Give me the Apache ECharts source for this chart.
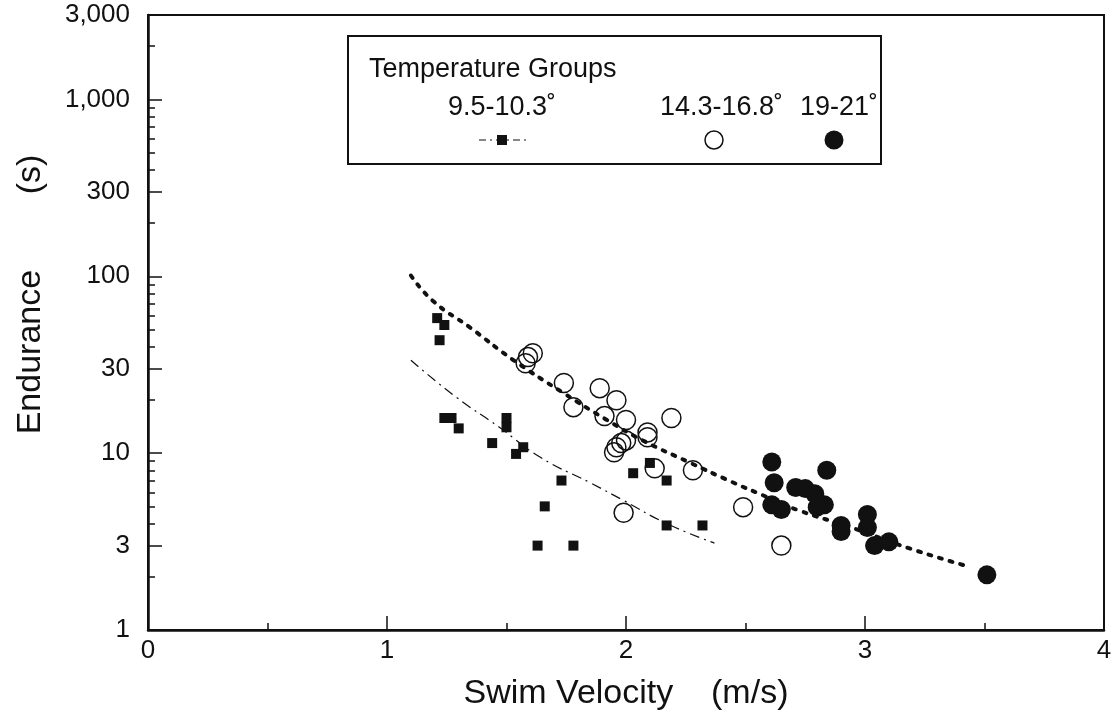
<!DOCTYPE html>
<html>
<head>
<meta charset="utf-8">
<title>Endurance vs swim velocity</title>
<script src="https://cdn.jsdelivr.net/npm/echarts@6/dist/echarts.min.js"></script>
<style>
  html, body { margin: 0; padding: 0; background: #fff; }
  #chart { width: 1116px; height: 719px; }
</style>
</head>
<body>
<div id="chart"></div>
<script>
// 9.5-10.3 deg group (squares)
const coldVelocity = [1.21, 1.24, 1.22, 1.24, 1.27, 1.30, 1.50, 1.50, 1.44, 1.57, 1.54, 1.73, 1.66, 1.63, 1.78, 2.03, 2.10, 2.17, 2.17, 2.32]
const coldEndurance = [58, 53, 43.5, 15.8, 15.8, 13.8, 15.8, 14.0, 11.4, 10.8, 9.9, 7.0, 5.0, 3.0, 3.0, 7.7, 8.8, 7.0, 3.9, 3.9]

// 14.3-16.8 deg group (open circles)
const midVelocity = [1.61, 1.59, 1.58, 1.74, 1.78, 1.89, 1.96, 1.91, 2.00, 2.19, 2.09, 2.09, 2.00, 1.98, 1.96, 1.95, 2.12, 2.28, 1.99, 2.49, 2.65]
const midEndurance = [36.7, 34.9, 32.2, 24.9, 18.2, 23.3, 19.9, 16.2, 15.4, 15.8, 13.1, 12.3, 11.8, 11.4, 10.8, 10.1, 8.2, 8.0, 4.6, 4.95, 3.0]

// 19-21 deg group (filled circles)
const warmVelocity = [2.61, 2.62, 2.84, 2.71, 2.75, 2.79, 2.83, 2.80, 2.61, 2.65, 2.90, 2.90, 3.01, 3.01, 3.04, 3.10, 3.51]
const warmEndurance = [8.9, 6.8, 8.0, 6.4, 6.3, 5.9, 5.1, 4.95, 5.1, 4.8, 3.9, 3.6, 4.5, 3.8, 3.0, 3.15, 2.05]

// fitted curves
const warmFitVelocity = [1.10, 1.19, 1.35, 1.53, 1.74, 1.92, 2.07, 2.27, 2.44, 2.57, 2.72, 2.95, 3.18, 3.44]
const warmFitEndurance = [101, 73, 51, 33.5, 21.8, 15.4, 11.8, 8.8, 6.9, 5.8, 4.76, 3.77, 2.91, 2.27]
const coldFitVelocity = [1.10, 1.29, 1.47, 1.64, 1.85, 1.99, 2.17, 2.37]
const coldFitEndurance = [33.5, 20.7, 14.0, 9.5, 6.8, 5.4, 4.0, 3.1]

const yTickValues = [1, 3, 10, 30, 100, 300, 1000, 3000]
const yMinorValues = [2, 4, 5, 6, 7, 8, 9, 20, 40, 50, 60, 70, 80, 90, 200, 400, 500, 600, 700, 800, 900, 2000]
const groupNames = ['9.5-10.3˚', '14.3-16.8˚', '19-21˚']

const zip = (xs, ys) => xs.map((x, i) => [x, ys[i]])

const ink = '#111'
const font = '"Liberation Sans", Arial, Helvetica, sans-serif'

const chart = echarts.init(document.getElementById('chart'))

const option = {
  backgroundColor: '#fff',
  animation: false,
  textStyle: { fontFamily: font, color: ink },
  grid: {
    left: 148, right: 12, top: 15, bottom: 89,
    show: true, borderColor: ink, borderWidth: 2, backgroundColor: 'transparent'
  },
  xAxis: {
    type: 'value',
    min: 0, max: 4, interval: 1,
    name: 'Swim Velocity    (m/s)',
    nameLocation: 'middle',
    nameGap: 47,
    nameTextStyle: { fontSize: 34, color: ink, fontFamily: font },
    axisLine: { lineStyle: { color: ink, width: 2.5 } },
    axisTick: { inside: true, length: 14, lineStyle: { color: ink, width: 1.5 } },
    minorTick: { show: true, splitNumber: 2, length: 7, lineStyle: { color: ink, width: 1.5 } },
    splitLine: { show: false },
    axisLabel: { fontSize: 26, color: ink, margin: 8, fontFamily: font }
  },
  yAxis: [
    {
      type: 'log', logBase: 10,
      position: 'left',
      min: 1, max: 3000,
      name: 'Endurance        (s)',
      nameLocation: 'middle',
      nameRotate: 90,
      nameGap: 100,
      nameTextStyle: { fontSize: 34, color: ink, fontFamily: font, padding: [0, 0, 0, 56] },
      axisLine: { show: true, lineStyle: { color: ink, width: 2.5 } },
      axisTick: { inside: true, length: 14, customValues: yTickValues, lineStyle: { color: ink, width: 1.5 } },
      splitLine: { show: false },
      axisLabel: {
        fontSize: 26, color: ink, margin: 18, fontFamily: font,
        customValues: yTickValues,
        formatter: v => Math.round(v).toLocaleString('en-US')
      }
    },
    {
      type: 'log', logBase: 10,
      position: 'left',
      offset: 0,
      min: 1, max: 3000,
      axisLine: { show: false },
      axisTick: { show: true, inside: true, length: 7, customValues: yMinorValues, lineStyle: { color: ink, width: 1.5 } },
      axisLabel: { show: false },
      splitLine: { show: false }
    }
  ],
  series: [
    {
      name: 'warm fit',
      type: 'line',
      smooth: true,
      showSymbol: false,
      silent: true,
      data: zip(warmFitVelocity, warmFitEndurance),
      lineStyle: { color: ink, width: 4, type: [3, 8], cap: 'round', opacity: 1 },
      z: 1
    },
    {
      name: 'cold fit',
      type: 'line',
      smooth: true,
      showSymbol: false,
      silent: true,
      data: zip(coldFitVelocity, coldFitEndurance),
      lineStyle: { color: ink, width: 1.2, type: [10, 5, 2, 5], opacity: 1 },
      z: 1
    },
    {
      name: groupNames[0],
      type: 'scatter',
      symbol: 'rect',
      symbolSize: 10,
      data: zip(coldVelocity, coldEndurance),
      itemStyle: { color: ink, opacity: 1 },
      z: 3
    },
    {
      name: groupNames[1],
      type: 'scatter',
      symbol: 'circle',
      symbolSize: 19,
      data: zip(midVelocity, midEndurance),
      itemStyle: { color: 'rgba(0,0,0,0)', borderColor: ink, borderWidth: 1.5, opacity: 1 },
      z: 3
    },
    {
      name: groupNames[2],
      type: 'scatter',
      symbol: 'circle',
      symbolSize: 19,
      data: zip(warmVelocity, warmEndurance),
      itemStyle: { color: ink, opacity: 1 },
      z: 3
    }
  ],
  // legend box drawn as in the original figure
  graphic: [
    {
      type: 'rect', left: 347, top: 35,
      shape: { width: 533, height: 128 },
      style: { fill: '#fff', stroke: ink, lineWidth: 2 },
      z: 10
    },
    {
      type: 'text', left: 369, top: 56, z: 11,
      style: { text: 'Temperature Groups', fontSize: 27, fontFamily: font, fill: ink }
    },
    {
      type: 'text', left: 448, top: 94, z: 11,
      style: { text: groupNames[0], fontSize: 27, fontFamily: font, fill: ink }
    },
    {
      type: 'text', left: 660, top: 94, z: 11,
      style: { text: groupNames[1], fontSize: 27, fontFamily: font, fill: ink }
    },
    {
      type: 'text', left: 800, top: 94, z: 11,
      style: { text: groupNames[2], fontSize: 27, fontFamily: font, fill: ink }
    },
    {
      type: 'line', z: 11,
      shape: { x1: 479, y1: 140, x2: 526, y2: 140 },
      style: { stroke: ink, lineWidth: 1.2, lineDash: [7, 4, 2, 4] }
    },
    {
      type: 'rect', z: 12,
      shape: { x: 497, y: 135, width: 10, height: 10 },
      style: { fill: ink }
    },
    {
      type: 'circle', z: 11,
      shape: { cx: 714, cy: 140, r: 9 },
      style: { fill: '#fff', stroke: ink, lineWidth: 1.5 }
    },
    {
      type: 'circle', z: 11,
      shape: { cx: 834, cy: 140, r: 9.5 },
      style: { fill: ink }
    }
  ]
}

chart.setOption(option)
</script>
</body>
</html>
